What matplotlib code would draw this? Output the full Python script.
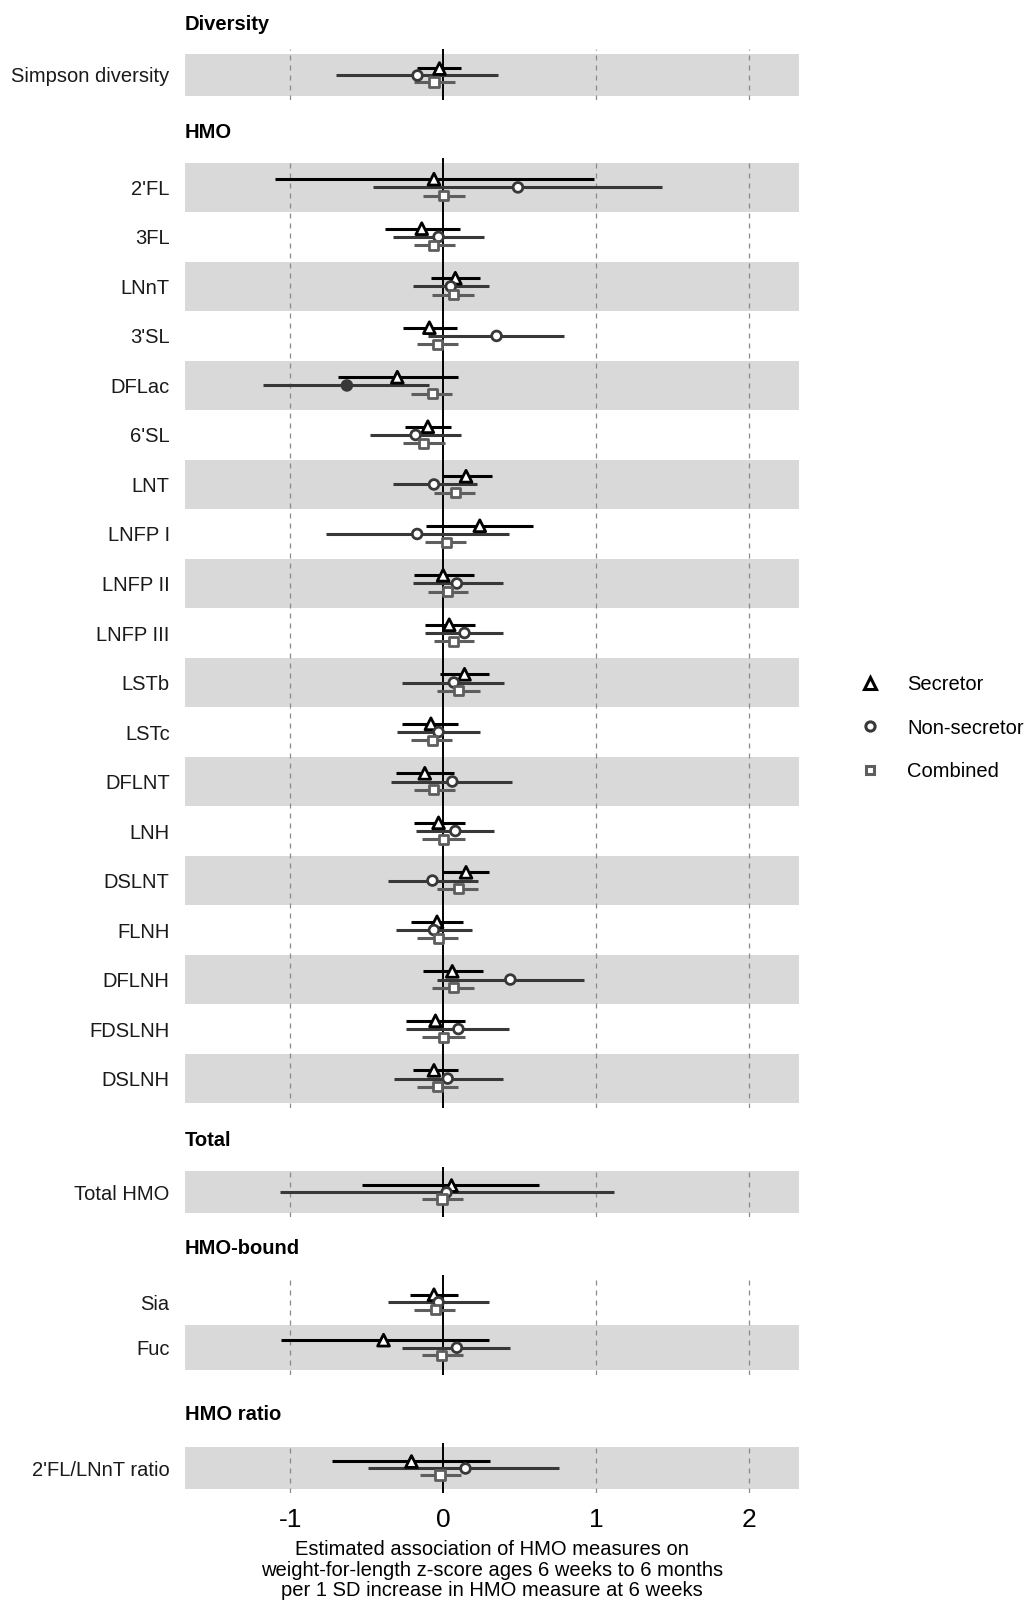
import numpy as np
import matplotlib
matplotlib.use("Agg")
from matplotlib import pyplot as plt
from matplotlib.lines import Line2D

plt.rcParams['font.family'] = ['Liberation Sans', 'DejaVu Sans']
plt.rcParams['axes.unicode_minus'] = False

# groups (facets) and the measures in each, top to bottom
group_names = ["Diversity", "HMO", "Total", "HMO-bound", "HMO ratio"]
group_sizes = [1, 19, 1, 2, 1]
measures = ["Simpson diversity",
            "2'FL", "3FL", "LNnT", "3'SL", "DFLac", "6'SL", "LNT", "LNFP I", "LNFP II",
            "LNFP III", "LSTb", "LSTc", "DFLNT", "LNH", "DSLNT", "FLNH", "DFLNH",
            "FDSLNH", "DSLNH",
            "Total HMO",
            "Sia", "Fuc",
            "2'FL/LNnT ratio"]

# estimates and 95% CI
sec_est = [-0.03, -0.06, -0.14, 0.08, -0.09, -0.30, -0.10, 0.15, 0.24, 0.00, 0.04, 0.14,
           -0.08, -0.12, -0.03, 0.15, -0.04, 0.06, -0.05, -0.06, 0.05, -0.06, -0.39, -0.21]
sec_lo = [-0.17, -1.10, -0.38, -0.08, -0.26, -0.69, -0.25, -0.01, -0.11, -0.19, -0.12, -0.02,
          -0.27, -0.31, -0.19, 0.00, -0.21, -0.13, -0.24, -0.20, -0.53, -0.22, -1.06, -0.73]
sec_hi = [0.12, 0.99, 0.11, 0.24, 0.09, 0.10, 0.05, 0.32, 0.59, 0.20, 0.21, 0.30,
          0.10, 0.07, 0.14, 0.30, 0.13, 0.26, 0.14, 0.10, 0.63, 0.10, 0.30, 0.31]

non_est = [-0.17, 0.49, -0.03, 0.05, 0.35, -0.63, -0.18, -0.06, -0.17, 0.09, 0.14, 0.07,
           -0.03, 0.06, 0.08, -0.07, -0.06, 0.44, 0.10, 0.03, 0.02, -0.03, 0.09, 0.14]
non_lo = [-0.70, -0.46, -0.33, -0.20, -0.10, -1.18, -0.48, -0.33, -0.77, -0.20, -0.12, -0.27,
          -0.30, -0.34, -0.18, -0.36, -0.31, -0.04, -0.24, -0.32, -1.07, -0.36, -0.27, -0.49]
non_hi = [0.36, 1.43, 0.27, 0.30, 0.79, -0.09, 0.12, 0.22, 0.43, 0.39, 0.39, 0.40,
          0.24, 0.45, 0.33, 0.23, 0.19, 0.92, 0.43, 0.39, 1.12, 0.30, 0.44, 0.76]

comb_est = [-0.06, 0.00, -0.06, 0.07, -0.04, -0.07, -0.13, 0.08, 0.02, 0.03, 0.07, 0.10,
            -0.07, -0.06, 0.00, 0.10, -0.03, 0.07, 0.00, -0.04, -0.01, -0.05, -0.01, -0.02]
comb_lo = [-0.19, -0.13, -0.19, -0.07, -0.17, -0.21, -0.26, -0.06, -0.12, -0.10, -0.06, -0.04,
           -0.21, -0.19, -0.14, -0.04, -0.17, -0.07, -0.14, -0.17, -0.14, -0.19, -0.14, -0.15]
comb_hi = [0.08, 0.14, 0.08, 0.20, 0.10, 0.06, 0.01, 0.21, 0.15, 0.16, 0.20, 0.24,
           0.06, 0.08, 0.14, 0.23, 0.10, 0.20, 0.14, 0.10, 0.13, 0.08, 0.13, 0.12]

x_ticks = [-1, 0, 1, 2]
x_label = ("Estimated association of HMO measures on\n"
           "weight-for-length z-score ages 6 weeks to 6 months\n"
           "per 1 SD increase in HMO measure at 6 weeks")

# series: label, est, lo, hi, marker, colour, dodge offset, marker size
series = [
    ("Secretor", sec_est, sec_lo, sec_hi, '^', '#000000', -1 / 6, 8.5),
    ("Non-secretor", non_est, non_lo, non_hi, 'o', '#383838', 0.0, 7),
    ("Combined", comb_est, comb_lo, comb_hi, 's', '#5e5e5e', 1 / 6, 6.5),
]

# layout, in pixels of the 1025x1600 figure
W, H = 1025, 1600
panel_left, panel_right = 185, 799
panel_tops = [49.3, 157.7, 1167.3, 1275.0, 1443.3]
panel_bottoms = [100.0, 1108.3, 1216.7, 1375.0, 1492.7]
header_y = [24, 133, 1140, 1249, 1415]
FS = 14.5

fig = plt.figure(figsize=(10.25, 16), dpi=100)

start = 0
for g, name in enumerate(group_names):
    n = group_sizes[g]
    idx = list(range(start, start + n))
    start += n
    top, bot = panel_tops[g], panel_bottoms[g]
    ax = fig.add_axes([panel_left / W, 1 - bot / H,
                       (panel_right - panel_left) / W, (bot - top) / H])
    ax.set_xlim(-1.69, 2.33)
    ax.set_ylim(n + 0.6, 0.4)
    rows = np.arange(1, n + 1)

    # alternating bands, bottom row always grey
    for r in rows:
        if (n - r) % 2 == 0:
            ax.axhspan(r - 0.5, r + 0.5, color='#d9d9d9', lw=0, zorder=0)
    for v in [-1, 1, 2]:
        ax.axvline(v, color='#8a8a8a', lw=0.9, ls=(0, (4, 4)), zorder=1)
    ax.axvline(0, color='black', lw=1.4, zorder=2)

    for label, est, lo, hi, mk, col, off, ms in series:
        e = np.array([est[i] for i in idx])
        l = np.array([lo[i] for i in idx])
        h = np.array([hi[i] for i in idx])
        y = rows + off
        ax.hlines(y, l, h, color=col, lw=2.2, zorder=3)
        sig = (l > 0) | (h < 0)
        face = [col if s else 'white' for s in sig]
        ax.scatter(e, y, marker=mk, s=ms ** 2, facecolors=face, edgecolors=col,
                   linewidths=2.0, zorder=4)

    ax.set_yticks(rows, labels=[measures[i] for i in idx], fontsize=FS, color='#1a1a1a')
    ax.tick_params(axis='y', length=0, pad=11)
    ax.set_xticks(x_ticks)
    if g == len(group_names) - 1:
        ax.set_xticklabels([str(t) for t in x_ticks], fontsize=19)
        ax.tick_params(axis='x', length=0, pad=11)
    else:
        ax.tick_params(axis='x', length=0, labelbottom=False)
    for s in ax.spines.values():
        s.set_visible(False)

    fig.text(panel_left / W, 1 - header_y[g] / H, name, fontsize=FS,
             fontweight='bold', ha='left', va='center')

fig.text((panel_left + panel_right) / 2 / W, 1 - 1570 / H, x_label, fontsize=FS,
         ha='center', va='center', linespacing=1.1)

handles = [Line2D([], [], ls='none', marker=mk, markersize=ms * 0.95,
                  markerfacecolor='white', markeredgecolor=col, markeredgewidth=2.2)
           for label, est, lo, hi, mk, col, off, ms in series]
fig.legend(handles, [s[0] for s in series], loc='center left',
           bbox_to_anchor=(860 / W, 1 - 728 / H), frameon=False, fontsize=FS,
           handlelength=1.0, handletextpad=1.35, labelspacing=1.2,
           borderpad=0, borderaxespad=0)

fig.savefig("out.png", dpi=100)
